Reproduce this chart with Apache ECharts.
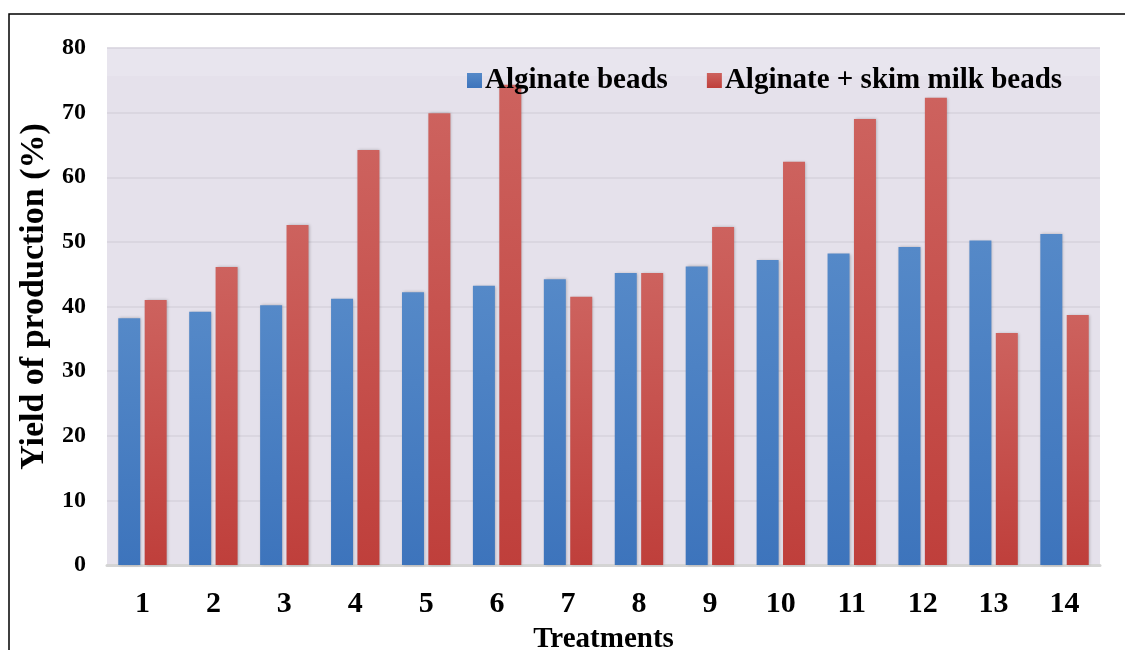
<!DOCTYPE html>
<html>
<head>
<meta charset="utf-8">
<script src="https://cdn.jsdelivr.net/npm/echarts@6/dist/echarts.min.js"></script>
<style>html,body{margin:0;padding:0;background:#fff;}#c{width:1125px;height:650px;}</style>
</head>
<body>
<div id="c"></div>
<script>
const categories = ['1','2','3','4','5','6','7','8','9','10','11','12','13','14'];
const alginate = [38.2, 39.2, 40.2, 41.2, 42.2, 43.2, 44.2, 45.2, 46.2, 47.2, 48.2, 49.2, 50.2, 51.2];
const alginateSkim = [41.0, 46.1, 52.6, 64.2, 69.9, 74.3, 41.5, 45.2, 52.3, 62.4, 69.0, 72.3, 35.9, 38.7];
const seriesNames = ['Alginate beads', 'Alginate + skim milk beads'];
const yTicks = { min: 0, max: 80, interval: 10 };

const serif = '"Liberation Serif", "Times New Roman", serif';
const chart = echarts.init(document.getElementById('c'));
const blueGrad = new echarts.graphic.LinearGradient(0, 0, 0, 1, [
  {offset: 0, color: '#5589c8'}, {offset: 1, color: '#3d74bc'}]);
const redGrad = new echarts.graphic.LinearGradient(0, 0, 0, 1, [
  {offset: 0, color: '#cd625e'}, {offset: 1, color: '#bf3f3b'}]);

chart.setOption({
  animation: false,
  backgroundColor: '#ffffff',
  graphic: [
    { type: 'rect', z: -10, shape: { x: 107, y: 48, width: 993, height: 517 }, style: { fill: '#e5e1eb' }, silent: true },
    { type: 'rect', z: -9, shape: { x: 107, y: 48, width: 993, height: 28 }, style: { fill: '#e8e5ee' }, silent: true },
    { type: 'rect', z: 100, shape: { x: 9, y: 14, width: 1130, height: 700 }, style: { fill: 'none', stroke: '#000', lineWidth: 1.5 }, silent: true }
  ],
  grid: { left: 107, right: 25, top: 48, bottom: 85, containLabel: false, outerBoundsMode: 'none' },
  legend: {
    data: seriesNames,
    left: 462, top: 61,
    itemWidth: 15, itemHeight: 15, itemGap: 39,
    icon: 'rect',
    textStyle: { fontFamily: serif, fontWeight: 'bold', fontSize: 29, color: '#000', padding: [0,0,0,-2] }
  },
  xAxis: {
    type: 'category',
    data: categories,
    name: 'Treatments',
    nameLocation: 'middle',
    nameGap: 60,
    nameTextStyle: { fontFamily: serif, fontWeight: 'bold', fontSize: 29, color: '#000' },
    axisLine: { lineStyle: { color: '#d4d4d4', width: 3 } },
    axisTick: { show: false },
    axisLabel: { fontFamily: serif, fontWeight: 'bold', fontSize: 30, color: '#000', margin: 24 }
  },
  yAxis: {
    type: 'value',
    min: yTicks.min, max: yTicks.max, interval: yTicks.interval,
    name: 'Yield of production (%)',
    nameLocation: 'middle',
    nameGap: 52,
    nameTextStyle: { fontFamily: serif, fontWeight: 'bold', fontSize: 34, color: '#000', padding: [0, 0, 0, 20] },
    axisLine: { show: false },
    axisTick: { show: false },
    axisLabel: { fontFamily: serif, fontWeight: 'bold', fontSize: 24, color: '#000', margin: 21 },
    splitLine: { lineStyle: { color: '#d6d2dc', width: 1.5 } }
  },
  series: [
    { name: seriesNames[0], type: 'bar', data: alginate, barWidth: 22, barGap: '20%',
      itemStyle: { color: blueGrad, shadowColor: 'rgba(0,0,0,0.25)', shadowBlur: 3, shadowOffsetX: 1 } },
    { name: seriesNames[1], type: 'bar', data: alginateSkim, barWidth: 22,
      itemStyle: { color: redGrad, shadowColor: 'rgba(0,0,0,0.25)', shadowBlur: 3, shadowOffsetX: 1 } }
  ]
});
</script>
</body>
</html>
